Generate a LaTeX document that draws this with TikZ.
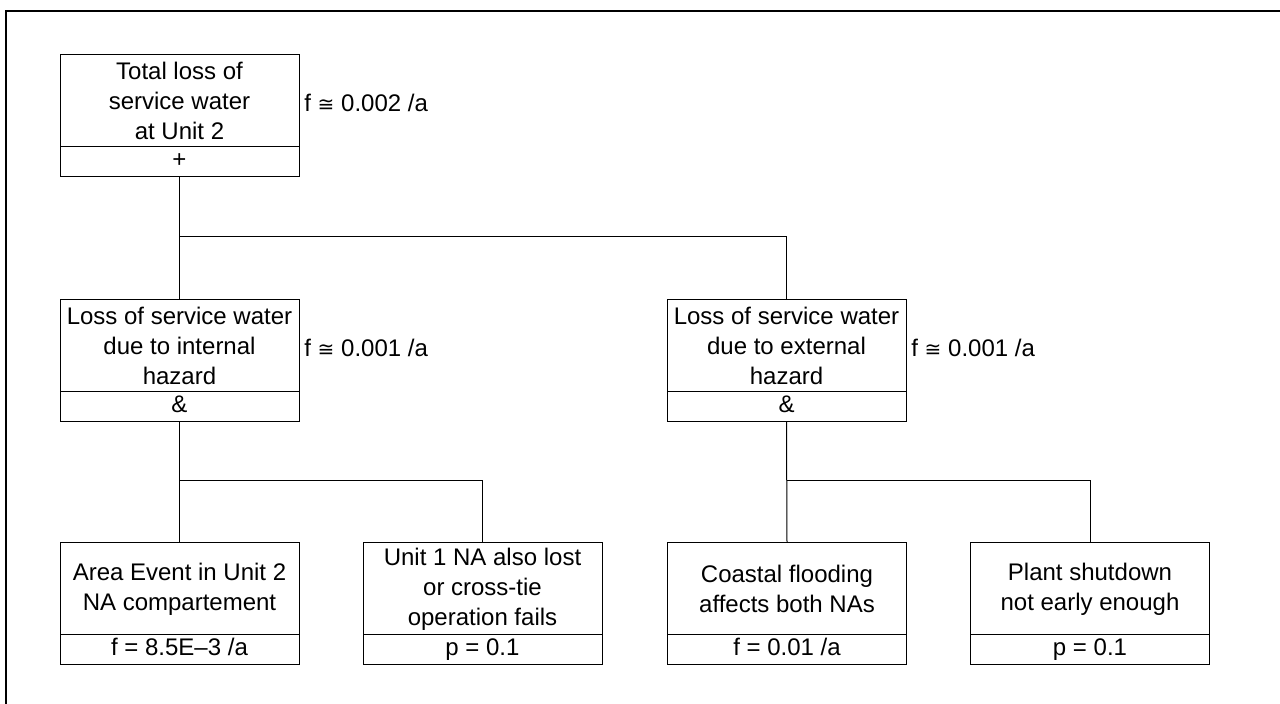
\documentclass[tikz,border=0pt]{standalone}
\usepackage{fontspec}
\setmainfont{Liberation Sans}
\newfontfamily\symfont{DejaVu Sans}
\newcommand{\approxeq}{{\symfont\fontsize{10}{12}\selectfont ≅}}
\begin{document}
\begin{tikzpicture}[x=0.5pt,y=-0.5pt,
  upbox/.style={draw, line width=0.5pt, minimum width=119.5pt, minimum height=46pt,
    inner sep=0pt, outer sep=0pt, align=center, font=\fontsize{12}{15}\selectfont},
  lowbox/.style={draw, line width=0.5pt, minimum width=119.5pt, minimum height=15pt,
    text height=8.6pt, text depth=2.6pt,
    inner sep=0pt, outer sep=0pt, anchor=north, font=\fontsize{12}{15}\selectfont},
  flabel/.style={anchor=west, inner sep=0.5pt, xshift=2pt, yshift=-1pt, font=\fontsize{12}{15}\selectfont},
  conn/.style={line width=0.5pt}]
\useasboundingbox (0,0) rectangle (1280,704);
\draw[line width=1pt] (6,704) -- (6,11.3) -- (1280,11.3);
% top
\node[upbox] (t) at (179.5,101) {Total loss of\\service water\\at Unit 2};
\node[lowbox] (tg) at (t.south) {+};
\node[flabel] (tl) at (t.east) {f \approxeq\ 0.002 /a};
% middle
\node[upbox] (a) at (179.5,345.5) {Loss of service water\\due to internal\\hazard};
\node[lowbox] (ag) at (a.south) {\&};
\node[flabel] (al) at (a.east) {f \approxeq\ 0.001 /a};
\node[upbox] (b) at (786.5,345.5) {Loss of service water\\due to external\\hazard};
\node[lowbox] (bg) at (b.south) {\&};
\node[flabel] (bl) at (b.east) {f \approxeq\ 0.001 /a};
% bottom
\node[upbox] (c1) at (179.5,589) {Area Event in Unit 2\\NA compartement};
\node[lowbox] (c1v) at (c1.south) {f = 8.5E–3 /a};
\node[upbox] (c2) at (482.5,589) {Unit 1 NA also lost\\or cross-tie\\operation fails};
\node[lowbox] (c2v) at (c2.south) {p = 0.1};
\node[upbox] (c3) at (787,589) {Coastal flooding\\affects both NAs};
\node[lowbox] (c3v) at (c3.south) {f = 0.01 /a};
\node[upbox] (c4) at (1090,589) {Plant shutdown\\not early enough};
\node[lowbox] (c4v) at (c4.south) {p = 0.1};
% junctions
\coordinate (j0) at (0,237);
\coordinate (j1) at (0,481);
% connectors
\draw[conn] (tg.south) -- (a.north);
\draw[conn] (tg.south |- j0) -| (b.north);
\draw[conn] (ag.south) -- (c1.north);
\draw[conn] (ag.south |- j1) -| (c2.north);
\draw[conn] (bg.south) -- (c3.north);
\draw[conn] (bg.south |- j1) -| (c4.north);
\end{tikzpicture}
\end{document}
